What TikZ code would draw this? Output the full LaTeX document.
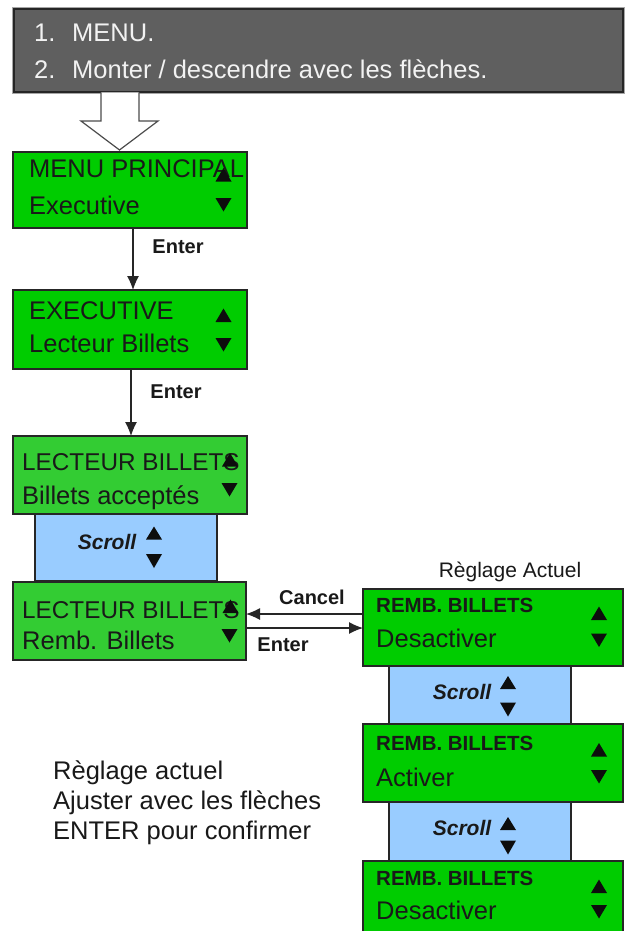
\documentclass[tikz,border=0pt]{standalone}
\usepackage{fontspec}
\setmainfont{Liberation Sans}
\usetikzlibrary{arrows.meta}
\definecolor{gA}{HTML}{00CC00}
\definecolor{gB}{HTML}{33CC33}
\definecolor{skyb}{HTML}{99CCFF}
\definecolor{darkgray}{HTML}{5F5F5F}
\definecolor{txtlight}{HTML}{F2F2F2}
\begin{document}
\begin{tikzpicture}[x=1pt,y=-1pt,
  box/.style={draw=black!85, line width=1.3pt, inner sep=0pt, outer sep=0pt},
  gboxA/.style={box, fill=gA},
  gboxB/.style={box, fill=gB},
  bbox/.style={box, fill=skyb},
  btxt/.style={inner sep=0pt, anchor=base west, text=black!90, font=\fontsize{25.5}{30}\selectfont},
  ctxt/.style={btxt, font=\fontsize{24.3}{30}\selectfont},
  bbold/.style={inner sep=0pt, anchor=base west, text=black!90, font=\fontsize{20.5}{24}\selectfont\bfseries},
  lbl/.style={inner sep=0pt, text=black!90, font=\fontsize{20}{24}\selectfont\bfseries},
  scr/.style={inner sep=0pt, text=black!90, font=\fontsize{21}{24}\selectfont\bfseries\itshape},
  gtxt/.style={inner sep=0pt, anchor=base west, text=txtlight, font=\fontsize{25.5}{30}\selectfont},
  arr/.style={draw=black!85, line width=1.1pt, -{Latex[length=14pt,width=12pt]}},
  uptri/.pic={\fill[black!95] (-8,6.5) -- (8,6.5) -- (0,-7) -- cycle;},
  dntri/.pic={\fill[black!95] (-8,-6.5) -- (8,-6.5) -- (0,7) -- cycle;},
  supt/.pic={\fill[black!95] (-8,6.5) -- (8,6.5) -- (0,-6.5) -- cycle;},
  sdnt/.pic={\fill[black!95] (-8,-7) -- (8,-7) -- (0,7) -- cycle;}
]
\useasboundingbox (0,0) rectangle (632,931);
\clip (0,0) rectangle (632,931);
\fill[white] (0,0) rectangle (632,931);

% top gray box
\draw[black!35, line width=1pt] (12.5,7.5) rectangle (624.5,93.5);
\node[box, fill=darkgray, minimum width=609pt, minimum height=83pt] (top) at (318.5,50.5) {};
\node[gtxt] (t1n) at (34,42) {1.};
\node[gtxt] (t1) at (72,42) {MENU.};
\node[gtxt] (t2n) at (34,79) {2.};
\node[gtxt] (t2) at (72,79) {Monter / descendre avec les flèches.};

% hollow block arrow
\draw[black!70, line width=1.2pt, fill=white, line join=miter]
  (101,92.5) -- (101,121) -- (81,121) -- (119.5,150) -- (158,121) -- (139,121) -- (139,92.5);

% blue scroll boxes (behind)
\node[bbox, minimum width=182pt, minimum height=67pt] (sl) at (126,547.5) {};
\node[bbox, minimum width=182pt, minimum height=58pt] (sr1) at (480,695) {};
\node[bbox, minimum width=182pt, minimum height=59pt] (sr2) at (480,831.5) {};

% left boxes
\node[gboxA, minimum width=234pt, minimum height=76pt] (b1) at (130,190) {};
\node[gboxA, minimum width=234pt, minimum height=79pt] (b2) at (130,329.5) {};
\node[gboxB, minimum width=234pt, minimum height=78pt] (b3) at (130,475) {};
\node[gboxB, minimum width=233pt, minimum height=78pt] (b4) at (129.5,621) {};

% right boxes
\node[gboxA, minimum width=260pt, minimum height=77pt] (r1) at (493,627.5) {};
\node[gboxA, minimum width=260pt, minimum height=78pt] (r2) at (493,763) {};
\node[gboxA, minimum width=260pt, minimum height=79pt] (r3) at (493,900.5) {};

% texts in left boxes
\node[btxt] (b1a) at (29,177) {MENU PRINCIPAL};
\node[btxt] (b1b) at (29,214) {Executive};
\node[btxt] (b2a) at (29,319) {EXECUTIVE};
\node[btxt] (b2b) at (29,352) {Lecteur Billets};
\node[ctxt] (b3a) at (22,470.5) {LECTEUR BILLETS};
\node[btxt] (b3b) at (22,504) {Billets acceptés};
\node[ctxt] (b4a) at (22,618.5) {LECTEUR BILLETS};
\node[btxt] (b4b) at (22,649) {Remb. Billets};

% texts in right boxes
\node[bbold] (r1a) at (376,612.5) {REMB. BILLETS};
\node[btxt] (r1b) at (376,647) {Desactiver};
\node[bbold] (r2a) at (376,750.5) {REMB. BILLETS};
\node[btxt] (r2b) at (376,786) {Activer};
\node[bbold] (r3a) at (376,885.5) {REMB. BILLETS};
\node[btxt] (r3b) at (376,919) {Desactiver};

% scroll texts
\node[scr] (slt) at (107,542) {Scroll};
\node[scr] (sr1t) at (462,692) {Scroll};
\node[scr] (sr2t) at (462,828) {Scroll};

% triangles
\pic at (223.5,175) {uptri};  \pic at (223.5,204.5) {dntri};
\pic at (223.5,315.5) {uptri};\pic at (223.5,344.5) {dntri};
\pic at (230,460) {uptri};    \pic at (229.5,489.5) {dntri};
\pic at (230.5,606.5) {uptri};\pic at (229.5,635.5) {dntri};
\pic at (599,613.5) {uptri};  \pic at (599,640) {dntri};
\pic at (599,750) {uptri};    \pic at (599,776.5) {dntri};
\pic at (599,886.5) {uptri};  \pic at (599,911.5) {dntri};
\pic at (154,533) {supt};     \pic at (154,561) {sdnt};
\pic at (508,682.5) {supt};   \pic at (508,709.5) {sdnt};
\pic at (508,823.5) {supt};   \pic at (508,847.5) {sdnt};

% connectors
\draw[arr] ([xshift=3pt]b1.south) -- ([xshift=3pt]b2.north);
\draw[arr] ([xshift=1pt]b2.south) -- ([xshift=1pt]b3.north);
\draw[arr] ([yshift=7pt]b4.east -| r1.west) -- ([yshift=7pt]b4.east);
\draw[arr] ([yshift=-7pt]b4.east) -- ([yshift=-7pt]b4.east -| r1.west);

% labels
\node[lbl] (e1) at (178,247) {Enter};
\node[lbl] (e2) at (176,392) {Enter};
\node[lbl] (c1) at (312,597) {Cancel};
\node[lbl] (e3) at (283,645) {Enter};
\node[inner sep=0pt, text=black!90, font=\fontsize{21}{24}\selectfont] (ra) at (510,572) {Règlage Actuel};

% bottom-left note
\node[btxt] (n1) at (53,779) {Règlage actuel};
\node[btxt] (n2) at (53,809) {Ajuster avec les flèches};
\node[btxt] (n3) at (53,839) {ENTER pour confirmer};
\end{tikzpicture}
\end{document}
